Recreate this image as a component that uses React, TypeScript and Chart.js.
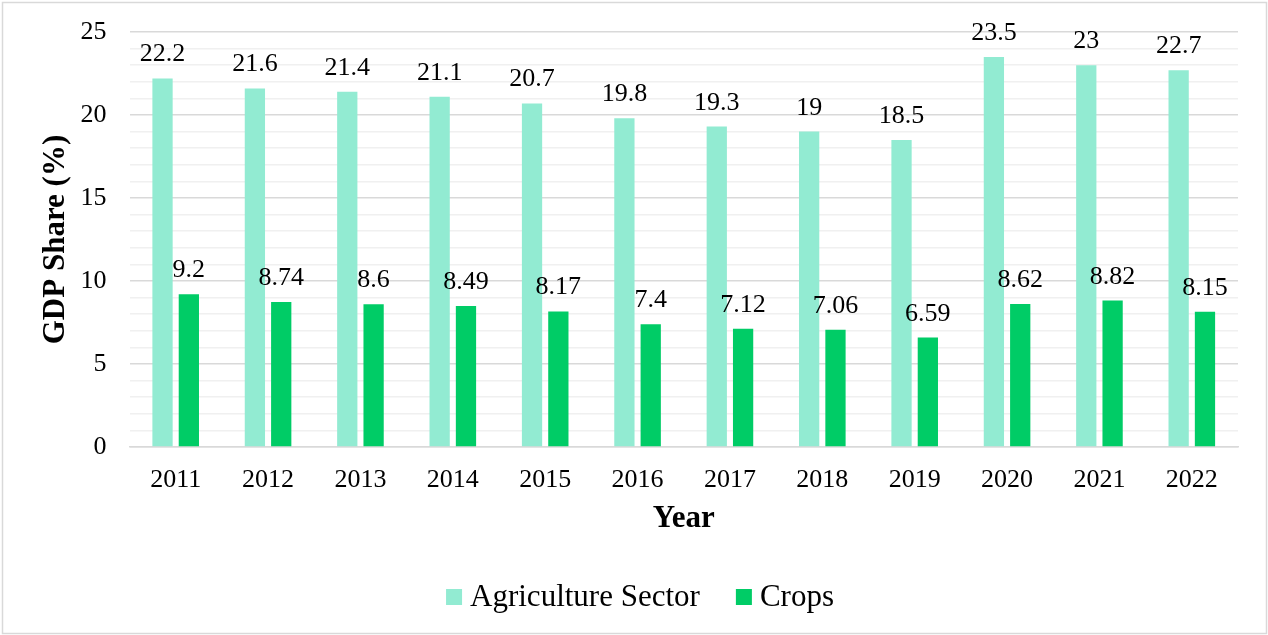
import React, { useEffect, useRef } from "react";
import { Chart, registerables } from "chart.js";

Chart.register(...registerables);

const years = ["2011", "2012", "2013", "2014", "2015", "2016", "2017", "2018", "2019", "2020", "2021", "2022"];
const agriculture = [22.2, 21.6, 21.4, 21.1, 20.7, 19.8, 19.3, 19, 18.5, 23.5, 23, 22.7];
const crops = [9.2, 8.74, 8.6, 8.49, 8.17, 7.4, 7.12, 7.06, 6.59, 8.62, 8.82, 8.15];
const seriesNames = ["Agriculture Sector", "Crops"];
const seriesColors = ["#92EBD2", "#00CC66"];
const yMax = 25;
const yMajorStep = 5;

const FONT = "'Liberation Serif', 'Times New Roman', serif";

const borderPlugin = {
  id: "outerBorder",
  beforeDraw(chart: any) {
    const { ctx, width, height } = chart;
    ctx.save();
    ctx.fillStyle = "#ffffff";
    ctx.fillRect(0, 0, width, height);
    ctx.strokeStyle = "#d9d9d9";
    ctx.lineWidth = 1.5;
    ctx.strokeRect(2.5, 2.5, width - 4, height - 4);
    ctx.restore();
  },
};

const labelPlugin = {
  id: "valueLabels",
  afterDatasetsDraw(chart: any) {
    const { ctx } = chart;
    ctx.save();
    ctx.font = `26px ${FONT}`;
    ctx.fillStyle = "#000000";
    ctx.textAlign = "center";
    ctx.textBaseline = "alphabetic";
    chart.data.datasets.forEach((ds: any, di: number) => {
      const meta = chart.getDatasetMeta(di);
      meta.data.forEach((bar: any, i: number) => {
        ctx.fillText(String(ds.data[i]), bar.x, bar.y - 17);
      });
    });
    ctx.restore();
  },
};

const legendPlugin = {
  id: "customLegend",
  afterDraw(chart: any) {
    const { ctx } = chart;
    ctx.save();
    ctx.font = `31px ${FONT}`;
    ctx.textBaseline = "middle";
    ctx.textAlign = "left";
    const box = 16;
    const gapText = 8;
    const gapItem = 36;
    const items = chart.data.datasets.map((ds: any) => ({
      label: ds.label,
      color: ds.backgroundColor,
      w: ctx.measureText(ds.label).width,
    }));
    const total =
      items.reduce((s: number, it: any) => s + box + gapText + it.w, 0) + gapItem * (items.length - 1);
    let x = 640 - total / 2;
    const cy = 597;
    items.forEach((it: any) => {
      ctx.fillStyle = it.color;
      ctx.fillRect(x, cy - 8, box, box);
      ctx.fillStyle = "#000000";
      ctx.fillText(it.label, x + box + gapText, cy + 1);
      x += box + gapText + it.w + gapItem;
    });
    ctx.restore();
  },
};

export default function App() {
  const ref = useRef<HTMLCanvasElement>(null);

  useEffect(() => {
    const canvas = ref.current;
    if (!canvas) return;
    let chart: any = null;
    let cancelled = false;

    const build = () => {
      if (cancelled) return;
      chart = new Chart(canvas, {
        type: "bar",
        data: {
          labels: years,
          datasets: [
            {
              label: seriesNames[0],
              data: agriculture,
              backgroundColor: seriesColors[0],
              categoryPercentage: 0.57,
              barPercentage: 0.77,
            },
            {
              label: seriesNames[1],
              data: crops,
              backgroundColor: seriesColors[1],
              categoryPercentage: 0.57,
              barPercentage: 0.77,
            },
          ],
        },
        options: {
          responsive: false,
          animation: false,
          devicePixelRatio: 1,
          layout: { padding: { left: 0, right: 30, top: 32, bottom: 80 } },
          plugins: {
            legend: { display: false },
            tooltip: { enabled: false },
          },
          scales: {
            x: {
              grid: { display: false },
              border: { display: true, color: "#d9d9d9", width: 1.5 },
              ticks: {
                color: "#000000",
                font: { family: FONT, size: 26 },
                padding: 10,
                maxRotation: 0,
              },
              title: {
                display: true,
                text: "Year",
                color: "#000000",
                font: { family: FONT, size: 31, weight: "bold" },
                padding: { top: 0, bottom: 17 },
              },
              afterFit(scale: any) {
                scale.height = 108;
              },
            },
            y: {
              min: 0,
              max: yMax,
              border: { display: false },
              grid: {
                drawTicks: true,
                tickLength: 23,
                tickColor: "rgba(0,0,0,0)",
                color: (ctx: any) =>
                  ctx.tick && ctx.tick.value % yMajorStep === 0 ? "#d9d9d9" : "#f0f0f0",
                lineWidth: 1.5,
              },
              ticks: {
                stepSize: 1,
                autoSkip: false,
                color: "#000000",
                font: { family: FONT, size: 26 },
                padding: 0,
                callback: (v: any) => (Number(v) % yMajorStep === 0 ? String(v) : ""),
              },
              title: {
                display: true,
                text: "GDP Share (%)",
                color: "#000000",
                font: { family: FONT, size: 31, weight: "bold" },
                padding: { top: 37, bottom: 0 },
              },
              afterFit(scale: any) {
                scale.width = 129.5;
              },
            },
          },
        },
        plugins: [borderPlugin, labelPlugin, legendPlugin],
      });
    };

    const fonts: any = (document as any).fonts;
    if (fonts && fonts.load) {
      Promise.all([
        fonts.load(`26px "Liberation Serif"`),
        fonts.load(`bold 31px "Liberation Serif"`),
      ])
        .catch(() => null)
        .then(build);
    } else {
      build();
    }

    return () => {
      cancelled = true;
      if (chart) chart.destroy();
    };
  }, []);

  return (
    <div style={{ position: "fixed", left: 0, top: 0, width: 1268, height: 635 }}>
      <canvas ref={ref} width={1268} height={635} style={{ display: "block" }} />
    </div>
  );
}
